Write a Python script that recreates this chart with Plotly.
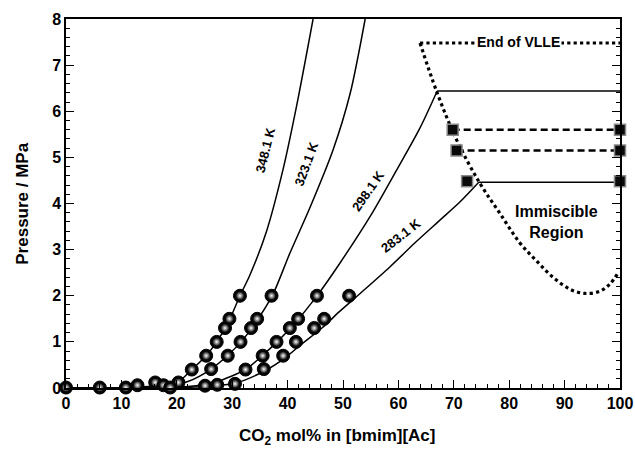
import plotly.graph_objects as go

# ---------------- data ----------------
# measured points (CO2 mol%, pressure MPa)
x_348 = [6.1, 16.1, 22.7, 25.3, 27.2, 28.7, 29.5, 31.4]
p_348 = [0.01, 0.12, 0.40, 0.70, 1.00, 1.30, 1.50, 2.00]
x_323 = [0.0, 17.6, 20.3, 26.2, 29.2, 31.5, 33.4, 34.5, 37.1]
p_323 = [0.01, 0.06, 0.12, 0.41, 0.70, 1.00, 1.30, 1.50, 2.00]
x_298 = [10.8, 25.1, 27.3, 32.4, 35.5, 38.0, 40.4, 41.9, 45.3]
p_298 = [0.01, 0.05, 0.07, 0.40, 0.70, 1.00, 1.30, 1.50, 2.00]
x_283 = [12.9, 18.8, 30.5, 35.7, 39.2, 41.5, 44.8, 46.6, 51.1]
p_283 = [0.06, 0.01, 0.09, 0.41, 0.70, 1.00, 1.30, 1.50, 2.00]

# fitted isotherms
fx_348 = [0, 10, 15, 18, 20.3, 22.7, 25.3, 27.2, 29.2, 31.4, 33.2, 36.2, 39.2, 41.6, 44.6]
fp_348 = [0, 0.005, 0.03, 0.07, 0.14, 0.40, 0.70, 1.00, 1.40, 2.00, 2.45, 3.40, 4.75, 6.10, 8.00]
fx_323 = [0, 12, 18, 22, 26.2, 29.3, 31.6, 34.0, 37.3, 40.4, 44.1, 48.2, 51.3, 54.0]
fp_323 = [0, 0.005, 0.04, 0.14, 0.41, 0.72, 1.00, 1.38, 2.02, 2.92, 3.93, 5.16, 6.39, 8.00]
fx_298 = [0, 15, 22, 27, 32.5, 35.6, 38.1, 41.0, 45.5, 49.4, 54.9, 59.7, 63.9, 67.0]
fp_298 = [0, 0.005, 0.03, 0.13, 0.41, 0.72, 1.00, 1.36, 2.03, 2.70, 3.72, 4.73, 5.64, 6.44]
fx_283 = [0, 18, 25, 30.7, 36.0, 39.6, 42.2, 46.2, 49.3, 53.1, 58.5, 63.0, 67.5, 71.0, 74.5]
fp_283 = [0, 0.005, 0.03, 0.11, 0.38, 0.66, 0.92, 1.30, 1.65, 2.05, 2.63, 3.15, 3.64, 4.02, 4.46]

# three-phase (VLLE) pressures and phase compositions
vlle_x_left = [69.8, 70.5, 72.4]
vlle_x_right = [100, 100, 100]
vlle_p = [5.60, 5.15, 4.48]

# end-of-VLLE horizontal lines
h298_x = [67.0, 100]
h298_p = [6.44, 6.44]
h283_x = [74.5, 100]
h283_p = [4.46, 4.46]

# immiscible-region boundary (dotted)
env_x = [63.9, 66.9, 70.5, 74.7, 78.3, 81.9, 84.9, 87.9, 91.0, 93.7, 96.4, 98.2, 99.8]
env_p = [7.48, 6.43, 5.38, 4.44, 3.79, 3.15, 2.76, 2.40, 2.14, 2.05, 2.10, 2.26, 2.52]
end_x = [63.9, 100]
end_p = [7.48, 7.48]

labels = ["348.1 K", "323.1 K", "298.1 K", "283.1 K"]
label_x = [35.9, 43.4, 54.6, 60.5]
label_p = [5.16, 4.87, 4.28, 3.30]
label_ang = [-76, -70, -55, -38]

FONT = "Liberation Sans"

fig = go.Figure()

line_style = dict(color="black", width=1.5)
for fx, fp in [(fx_348, fp_348), (fx_323, fp_323), (fx_298, fp_298), (fx_283, fp_283)]:
    fig.add_trace(go.Scatter(x=fx, y=fp, mode="lines", line=dict(shape="spline", smoothing=0.8, **line_style),
                             hoverinfo="skip", showlegend=False))

for hx, hp in [(h298_x, h298_p), (h283_x, h283_p)]:
    fig.add_trace(go.Scatter(x=hx, y=hp, mode="lines", line=line_style, showlegend=False))

# dashed tie lines
for xl, xr, p in zip(vlle_x_left[:2], vlle_x_right[:2], vlle_p[:2]):
    fig.add_trace(go.Scatter(x=[xl, xr], y=[p, p], mode="lines",
                             line=dict(color="black", width=2.5, dash="7px,4px"), showlegend=False))

# dotted boundary
fig.add_trace(go.Scatter(x=env_x, y=env_p, mode="lines",
                         line=dict(color="black", width=3.2, dash="dot", shape="spline"), showlegend=False))
fig.add_trace(go.Scatter(x=end_x, y=end_p, mode="lines",
                         line=dict(color="black", width=3.2, dash="dot"), showlegend=False))

# squares
fig.add_trace(go.Scatter(x=vlle_x_left + vlle_x_right, y=vlle_p + vlle_p, mode="markers",
                         marker=dict(symbol="square", size=11, color="#0a0a0a",
                                     line=dict(color="#8a8a8a", width=1.5)),
                         showlegend=False, cliponaxis=False))

# balls: dark sphere with a bright centre highlight
for xs, ps in [(x_348, p_348), (x_323, p_323), (x_298, p_298), (x_283, p_283)]:
    fig.add_trace(go.Scatter(x=xs, y=ps, mode="markers",
                             marker=dict(symbol="circle", size=13, color="#050505",
                                         line=dict(color="black", width=1)),
                             showlegend=False, cliponaxis=False))
    fig.add_trace(go.Scatter(x=xs, y=ps, mode="markers",
                             marker=dict(symbol="circle", size=8, color="#151515",
                                         gradient=dict(type="radial", color="#ffffff"),
                                         line=dict(width=0)),
                             showlegend=False, cliponaxis=False, hoverinfo="skip"))

annotations = []
for t, lx, lp, ang in zip(labels, label_x, label_p, label_ang):
    annotations.append(dict(x=lx, y=lp, text=t, showarrow=False, textangle=ang,
                            font=dict(family=FONT, size=13, color="black", weight="bold")))
annotations.append(dict(x=81.6, y=7.5, text="End of VLLE", showarrow=False, bgcolor="white",
                        font=dict(family=FONT, size=14, color="black", weight="bold")))
annotations.append(dict(x=88.5, y=3.6, text="Immiscible<br>Region", showarrow=False,
                        font=dict(family=FONT, size=16, color="black", weight="bold")))
# axis titles
annotations.append(dict(xref="paper", yref="paper", x=0.49, y=-0.133, yanchor="middle",
                        text="CO<sub>2</sub> mol% in [bmim][Ac]", showarrow=False,
                        font=dict(family=FONT, size=17, color="black", weight="bold")))
annotations.append(dict(xref="paper", yref="paper", x=-0.079, y=0.5, xanchor="center",
                        text="Pressure / MPa", showarrow=False, textangle=-90,
                        font=dict(family=FONT, size=17, color="black", weight="bold")))

fig.update_layout(
    width=635, height=450,
    margin=dict(l=66, r=15, t=19, b=62),
    paper_bgcolor="white", plot_bgcolor="white",
    font=dict(family=FONT, color="black"),
    annotations=annotations,
    showlegend=False,
)
fig.update_xaxes(
    range=[0, 100], tickmode="linear", tick0=0, dtick=10, automargin=False,
    ticks="inside", ticklen=8, tickwidth=1.2, tickcolor="black",
    minor=dict(ticks="inside", ticklen=4, tickwidth=1, tickcolor="black", dtick=2),
    showline=True, linecolor="black", linewidth=1.5, mirror=True,
    showgrid=False, zeroline=False,
    tickfont=dict(family=FONT, size=16, color="black", weight="bold"),
)
fig.update_yaxes(
    range=[0, 8], tickmode="linear", tick0=0, dtick=1, automargin=False,
    ticks="inside", ticklen=8, tickwidth=1.2, tickcolor="black",
    minor=dict(ticks="inside", ticklen=4, tickwidth=1, tickcolor="black", dtick=0.2),
    showline=True, linecolor="black", linewidth=1.5, mirror="ticks",
    showgrid=False, zeroline=False,
    tickfont=dict(family=FONT, size=16, color="black", weight="bold"),
)

# remove the default 8 px page margin so the 635x450 figure fills the window
fig.write_html("out.html",
               config={"displayModeBar": False},
               post_script="document.body.style.margin='0';document.body.style.overflow='hidden';")
